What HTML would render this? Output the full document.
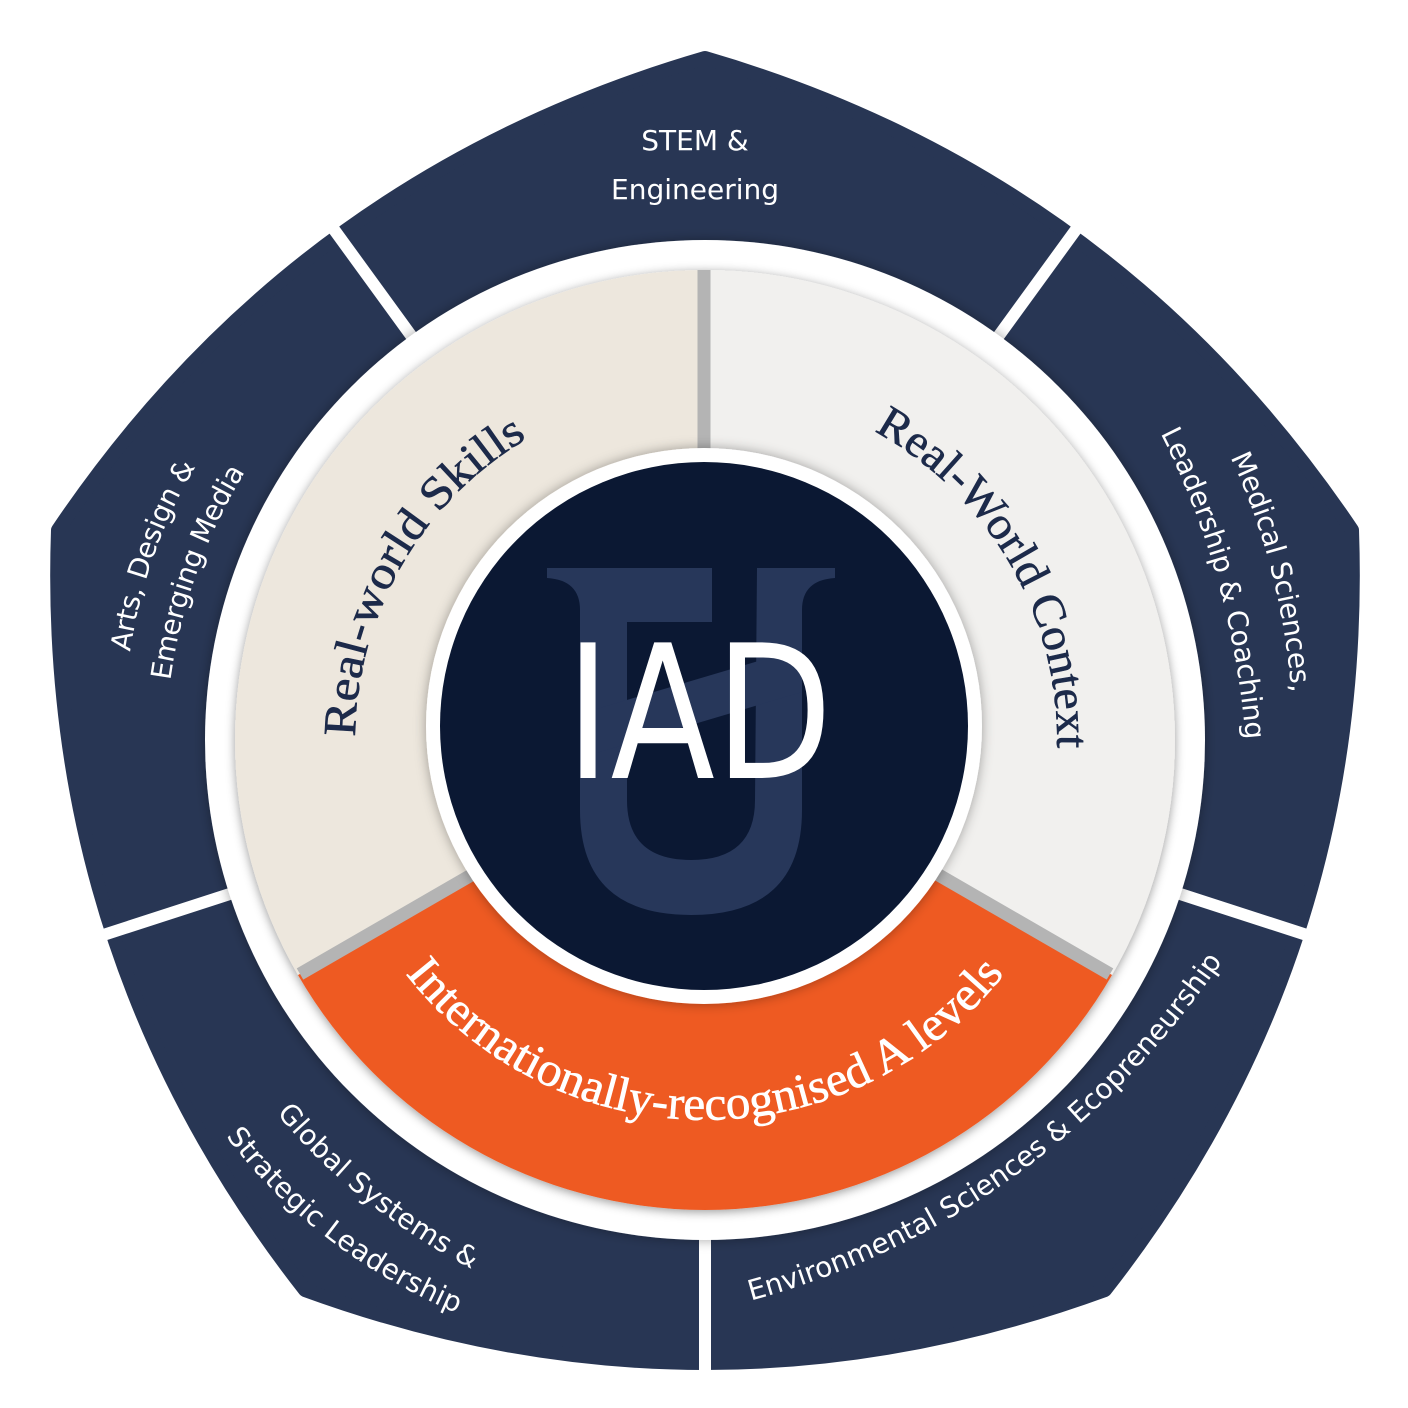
<!DOCTYPE html>
<html><head><meta charset="utf-8"><style>
html,body{margin:0;padding:0;background:#fff;}
svg{display:block;}
.sans{font-family:"DejaVu Sans","Liberation Sans",sans-serif;fill:#fff;font-size:28px;}
.serif{font-family:"Liberation Serif",serif;}
</style></head><body>
<svg width="1408" height="1408" viewBox="0 0 1408 1408" xmlns="http://www.w3.org/2000/svg">
<defs>
<filter id="sh" x="-20%" y="-20%" width="140%" height="140%"><feDropShadow dx="0" dy="0" stdDeviation="6" flood-color="#000" flood-opacity="0.35"/></filter>
<filter id="sh2" x="-20%" y="-20%" width="140%" height="140%"><feDropShadow dx="0" dy="2" stdDeviation="5" flood-color="#000" flood-opacity="0.4"/></filter>
<clipPath id="inner"><circle cx="704" cy="726" r="264"/></clipPath>
<path id="pSkills" d="M402,915 A350,350 0 0 1 705,390"/>
<path id="pContext" d="M705,388 A352,352 0 0 1 1010,916"/>
<path id="pAlev" d="M376,930 A380,380 0 0 0 1034,930"/>
<path id="pEnv" d="M738,1304 Q1044,1226 1230,950"/>
<path id="pG1" d="M282,1104 Q360,1200 480,1262"/>
<path id="pG2" d="M228,1122 Q316,1244 470,1308"/>
<path id="pA1" d="M120,652 Q136,545 188,460"/>
<path id="pA2" d="M160,682 Q176,565 238,464"/>
<path id="pM1" d="M1236,446 Q1292,560 1302,700"/>
<path id="pM2" d="M1168,426 Q1242,570 1256,742"/>
</defs>

<path d="M705,58 Q1114,177 1352,530 Q1367,955 1105,1290 Q705,1436 305,1290 Q43,955 58,530 Q296,177 705,58 Z" fill="#283654" stroke="#283654" stroke-width="14" stroke-linejoin="round"/>
<g stroke="#fff" stroke-width="12">
<line x1="705" y1="740" x2="705" y2="1460"/>
<line x1="705" y1="740" x2="1390" y2="962"/>
<line x1="705" y1="740" x2="20" y2="962"/>
<line x1="705" y1="740" x2="1128" y2="158"/>
<line x1="705" y1="740" x2="282" y2="158"/>
</g>

<circle cx="705" cy="740" r="500" fill="#fff" filter="url(#sh)"/>
<g filter="url(#sh2)">
<path d="M705,740 L705,270 A470,470 0 0 1 1112,975 Z" fill="#f1f0ee"/>
<path d="M705,740 L1112,975 A470,470 0 0 1 298,975 Z" fill="#ee5a24"/>
<path d="M705,740 L298,975 A470,470 0 0 1 705,270 Z" fill="#ede7dd"/>
</g>
<g stroke="#b4b4b4" stroke-width="13">
<line x1="704" y1="270" x2="704" y2="470"/>
<line x1="705" y1="740" x2="300" y2="974"/>
<line x1="705" y1="740" x2="1110" y2="974"/>
</g>

<text class="serif" font-size="46" fill="#1c2a4a" stroke="#1c2a4a" stroke-width="0.6"><textPath href="#pSkills" startOffset="50%" text-anchor="middle" textLength="360" lengthAdjust="spacingAndGlyphs">Real-world Skills</textPath></text>
<text class="serif" font-size="46" fill="#1c2a4a" stroke="#1c2a4a" stroke-width="0.6"><textPath href="#pContext" startOffset="50%" text-anchor="middle" textLength="385" lengthAdjust="spacingAndGlyphs">Real-World Context</textPath></text>
<text class="serif" font-size="48" fill="#fff" stroke="#fff" stroke-width="0.6"><textPath href="#pAlev" startOffset="50%" text-anchor="middle" textLength="690" lengthAdjust="spacingAndGlyphs">Internationally-recognised A levels</textPath></text>

<circle cx="704" cy="726" r="278" fill="#fff" filter="url(#sh)"/>
<circle cx="704" cy="726" r="264" fill="#0b1833"/>
<g clip-path="url(#inner)" fill="#27375a">
<path d="M547,568 L712,568 L712,622 L627,622 L627,800 Q627,860 691,860 Q755,860 755,800 L757,568 L835,568 L835,578 Q802,580 802,610 L802,810 Q802,915 691,915 Q580,915 580,810 L580,610 Q580,580 547,578 Z"/>
<path d="M583,713 L802,648 L802,692 L583,757 Z"/>
</g>
<text x="699" y="778" text-anchor="middle" font-family="'DejaVu Sans','Liberation Sans',sans-serif" font-size="186" fill="#fff" textLength="267" lengthAdjust="spacingAndGlyphs">IAD</text>

<text class="sans" x="695" y="150" text-anchor="middle">STEM &amp;</text>
<text class="sans" x="695" y="199" text-anchor="middle">Engineering</text>
<text class="sans" dominant-baseline="central"><textPath href="#pA1" startOffset="50%" text-anchor="middle">Arts, Design &amp;</textPath></text>
<text class="sans" dominant-baseline="central"><textPath href="#pA2" startOffset="50%" text-anchor="middle">Emerging Media</textPath></text>
<text class="sans" dominant-baseline="central"><textPath href="#pM1" startOffset="50%" text-anchor="middle">Medical Sciences,</textPath></text>
<text class="sans" dominant-baseline="central"><textPath href="#pM2" startOffset="50%" text-anchor="middle">Leadership &amp; Coaching</textPath></text>
<text class="sans" dominant-baseline="central"><textPath href="#pG1" startOffset="50%" text-anchor="middle">Global Systems &amp;</textPath></text>
<text class="sans" dominant-baseline="central"><textPath href="#pG2" startOffset="50%" text-anchor="middle">Strategic Leadership</textPath></text>
<text class="sans"><textPath href="#pEnv" startOffset="50%" text-anchor="middle">Environmental Sciences &amp; Ecopreneurship</textPath></text>
</svg>
</body></html>
